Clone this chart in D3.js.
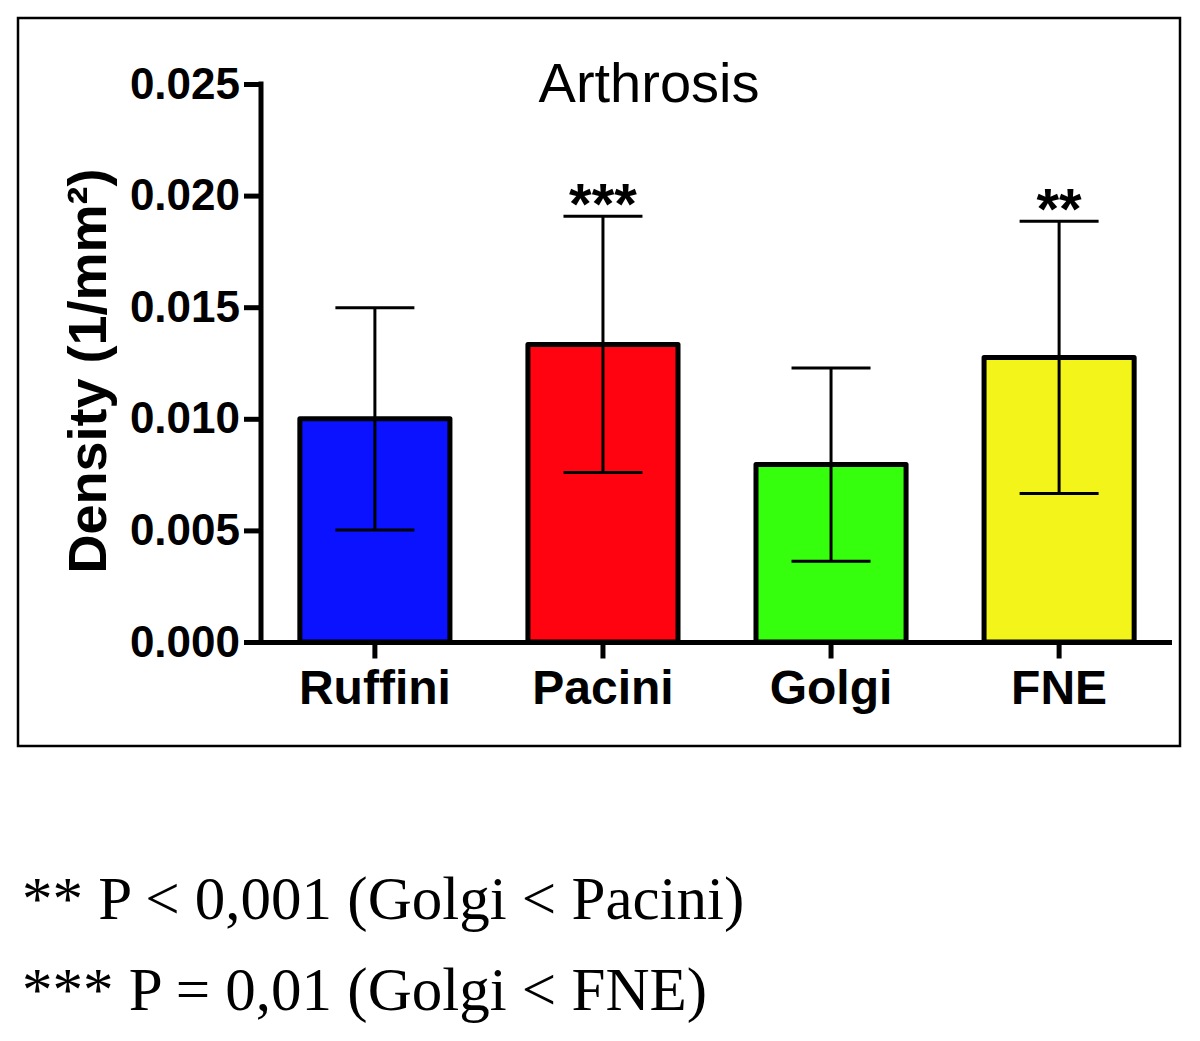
<!DOCTYPE html>
<html>
<head>
<meta charset="utf-8">
<script src="https://cdn.jsdelivr.net/npm/d3@7"></script>
<style>
  html, body { margin: 0; padding: 0; background: #fff; }
  svg { display: block; }
</style>
</head>
<body>
<svg id="chart" width="1200" height="1041"></svg>
<script>
const categories = ["Ruffini", "Pacini", "Golgi", "FNE"];
const means = [0.0100, 0.01333, 0.00795, 0.01275];
const sds = [0.00498, 0.00574, 0.00433, 0.0061];
const barColors = ["#0A12FF", "#FF0311", "#35FF0D", "#F3F51A"];
const stars = ["", "***", "", "**"];
const yTicks = [0.000, 0.005, 0.010, 0.015, 0.020, 0.025];
const titleText = "Arthrosis";
const yTitle = "Density (1/mm²)";
const footnotes = ["** P < 0,001 (Golgi < Pacini)", "*** P = 0,01 (Golgi < FNE)"];

const svg = d3.select("#chart");
const SANS = "'Liberation Sans', Arial, sans-serif";
const SERIF = "'Liberation Serif', 'Times New Roman', serif";

// frame
svg.append("rect")
  .attr("x", 18).attr("y", 18).attr("width", 1162).attr("height", 728)
  .attr("fill", "none").attr("stroke", "#000").attr("stroke-width", 2.5);

const y = d3.scaleLinear().domain([0, 0.025]).range([642, 84]);
const x = d3.scaleBand().domain(categories).range([262, 1172])
  .paddingInner(0.32).paddingOuter(0.155);

// bars
const data = categories.map((c, i) => ({ c, m: means[i], sd: sds[i], col: barColors[i], star: stars[i] }));
const bw = 5;
svg.append("g").selectAll("rect").data(data).join("rect")
  .attr("x", d => x(d.c) + bw / 2)
  .attr("width", x.bandwidth() - bw)
  .attr("y", d => y(d.m))
  .attr("height", d => y(0) - y(d.m))
  .attr("fill", d => d.col)
  .attr("stroke", "#000")
  .attr("stroke-width", bw)
  .attr("stroke-linejoin", "round");

// error bars
const capHalf = 39.5;
const eg = svg.append("g").attr("stroke", "#000").attr("stroke-width", 3);
data.forEach(d => {
  const cx = x(d.c) + x.bandwidth() / 2;
  eg.append("line").attr("x1", cx).attr("x2", cx).attr("y1", y(d.m + d.sd)).attr("y2", y(d.m - d.sd));
  eg.append("line").attr("x1", cx - capHalf).attr("x2", cx + capHalf).attr("y1", y(d.m + d.sd)).attr("y2", y(d.m + d.sd));
  eg.append("line").attr("x1", cx - capHalf).attr("x2", cx + capHalf).attr("y1", y(d.m - d.sd)).attr("y2", y(d.m - d.sd));
});

// significance stars
svg.append("g").selectAll("text").data(data.filter(d => d.star)).join("text")
  .attr("x", d => x(d.c) + x.bandwidth() / 2)
  .attr("y", d => y(d.m + d.sd) + 8)
  .attr("text-anchor", "middle")
  .attr("font-family", SANS).attr("font-weight", "bold").attr("font-size", 58)
  .text(d => d.star);

// y axis
const yAxis = svg.append("g").attr("transform", "translate(261,0)")
  .call(d3.axisLeft(y).tickValues(yTicks).tickFormat(d3.format(".3f")).tickSize(17).tickSizeOuter(0).tickPadding(4));
yAxis.select(".domain").remove();
yAxis.selectAll(".tick line").attr("stroke", "#000").attr("stroke-width", 5);
yAxis.selectAll(".tick text")
  .attr("font-family", SANS).attr("font-weight", "bold").attr("font-size", 44).attr("fill", "#000");
svg.append("line").attr("x1", 261).attr("x2", 261).attr("y1", y(0.025) - 2.5).attr("y2", y(0) + 2.5)
  .attr("stroke", "#000").attr("stroke-width", 5);

// x axis
const xAxis = svg.append("g").attr("transform", "translate(0,642.5)")
  .call(d3.axisBottom(x).tickSize(16).tickSizeOuter(0));
xAxis.select(".domain").remove();
xAxis.selectAll(".tick line").attr("stroke", "#000").attr("stroke-width", 5);
xAxis.selectAll(".tick text")
  .attr("dy", null).attr("y", 61)
  .attr("font-family", SANS).attr("font-weight", "bold").attr("font-size", 48).attr("fill", "#000");
svg.append("line").attr("x1", 258.5).attr("x2", 1172).attr("y1", 642.5).attr("y2", 642.5)
  .attr("stroke", "#000").attr("stroke-width", 5);

// title
svg.append("text").attr("x", 649).attr("y", 102).attr("text-anchor", "middle")
  .attr("font-family", SANS).attr("font-size", 56).text(titleText);

// y title
svg.append("text").attr("transform", "translate(106,371) rotate(-90)")
  .attr("text-anchor", "middle")
  .attr("font-family", SANS).attr("font-weight", "bold").attr("font-size", 54)
  .text(yTitle);

// footnotes
svg.append("g").selectAll("text").data(footnotes).join("text")
  .attr("x", 22).attr("y", (d, i) => 919 + i * 91)
  .attr("font-family", SERIF).attr("font-size", 61)
  .text(d => d);
</script>
</body>
</html>
